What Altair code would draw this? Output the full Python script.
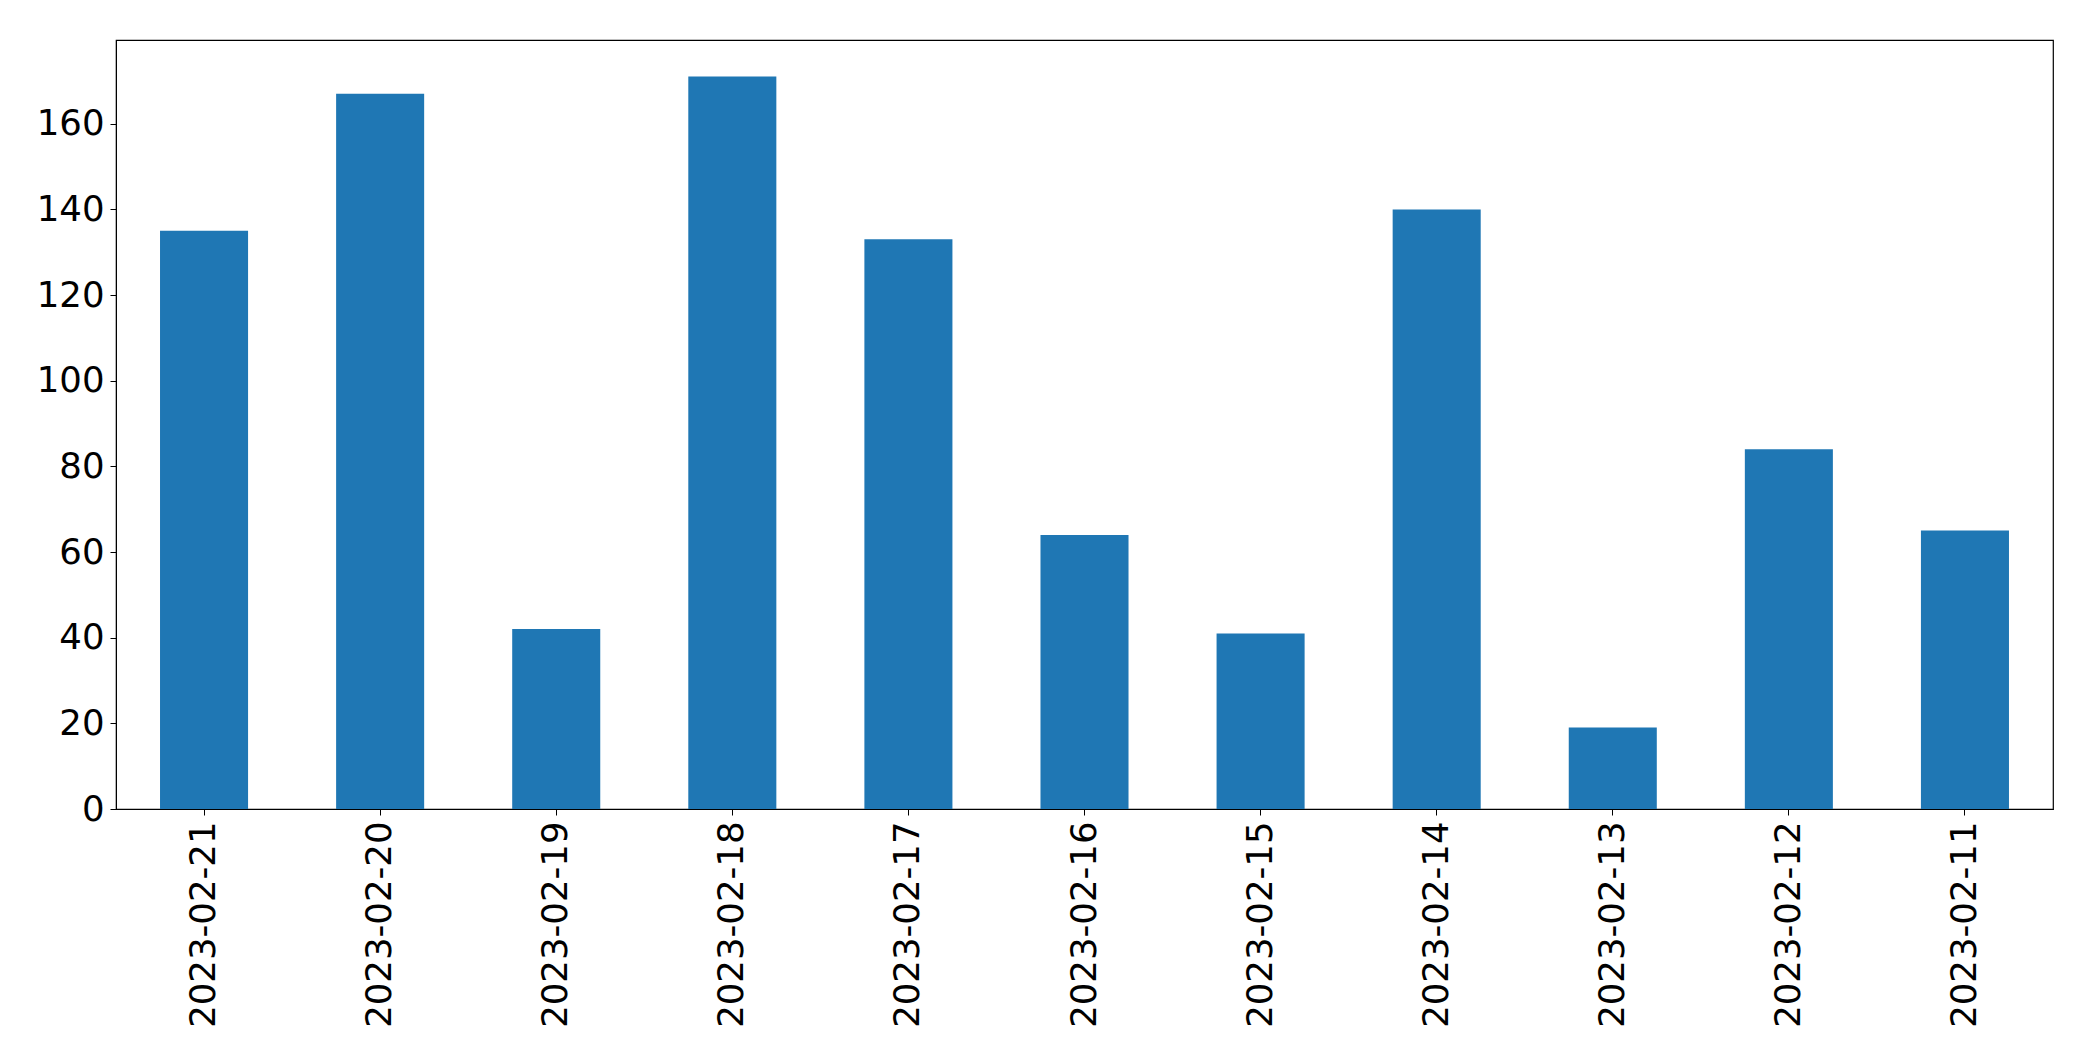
import altair as alt
import pandas as pd

dates = ["2023-02-21", "2023-02-20", "2023-02-19", "2023-02-18", "2023-02-17",
         "2023-02-16", "2023-02-15", "2023-02-14", "2023-02-13", "2023-02-12",
         "2023-02-11"]
counts = [135, 167, 42, 171, 133, 64, 41, 140, 19, 84, 65]
y_ticks = [0, 20, 40, 60, 80, 100, 120, 140, 160]

df = pd.DataFrame({"date": dates, "count": counts})

FONT = "DejaVu Sans"
FS = 35.5

chart = alt.Chart(df).mark_bar(color="#1f77b4").encode(
    x=alt.X("date:N", sort=None, title=None,
            scale=alt.Scale(paddingInner=0.5, paddingOuter=0.25),
            axis=alt.Axis(labelAngle=270, labelFont=FONT, labelFontSize=FS,
                          labelColor="black", tickColor="black", tickSize=6,
                          labelPadding=6, labelLimit=0, domainColor="black",
                          grid=False)),
    y=alt.Y("count:Q", title=None,
            scale=alt.Scale(domain=[0, 179.55], nice=False, zero=True),
            axis=alt.Axis(values=y_ticks, labelFont=FONT, labelFontSize=FS,
                          labelColor="black", tickColor="black", tickSize=6,
                          labelPadding=6, domainColor="black", grid=False)),
).properties(
    width=1937, height=769,
    autosize=alt.AutoSizeParams(type="none"),
    padding={"left": 108, "top": 32, "right": 20, "bottom": 230},
).configure(
    background="white"
).configure_view(
    stroke="black", strokeWidth=1.2
)

chart.save("out.html", embed_options={"renderer": "svg", "actions": False})
